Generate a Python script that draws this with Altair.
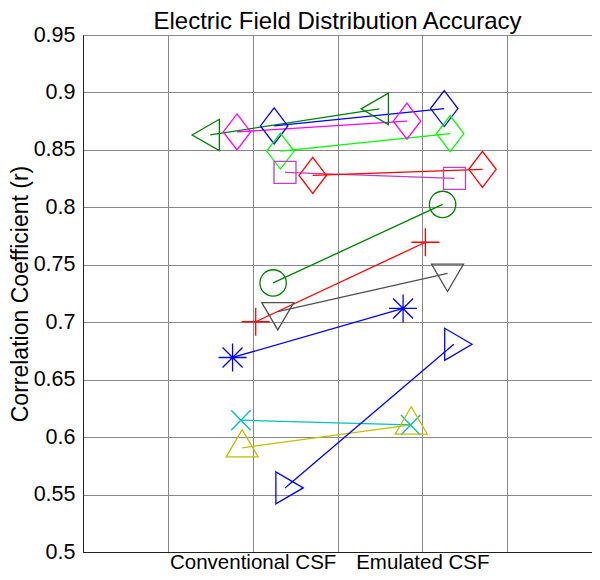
import altair as alt
import pandas as pd

# ---- data ----
series = ["s1", "s2", "s3", "s4", "s5", "s6", "s7", "s8", "s9", "s10", "s11", "s12", "s13"]
conv_x = [1.500, 1.815, 2.253, 2.327, 2.381, 2.708, 2.241, 2.036, 2.296, 1.763, 1.861, 1.876, 2.381]
conv_y = [0.8630, 0.8656, 0.8709, 0.8490, 0.8305, 0.8278, 0.7342, 0.7004, 0.7092, 0.6693, 0.6147, 0.5907, 0.5558]
emu_x = [3.493, 3.819, 4.258, 4.328, 4.379, 4.709, 4.239, 4.036, 4.297, 3.773, 3.862, 3.869, 4.371]
emu_y = [0.8857, 0.8750, 0.8860, 0.8642, 0.8252, 0.8331, 0.8025, 0.7696, 0.7426, 0.7120, 0.6106, 0.6106, 0.6808]

x_tick_values = [1, 2, 3, 4, 5]
x_tick_labels = {2: "Conventional CSF", 4: "Emulated CSF"}
y_tick_values = [0.5, 0.55, 0.6, 0.65, 0.7, 0.75, 0.8, 0.85, 0.9, 0.95]

# ---- styles ----
colors = ["#008000", "#FF00FF", "#0000FF", "#00FF00", "#BF40BF", "#FF0000", "#008000",
          "#FF0000", "#505050", "#0000FF", "#00BFBF", "#BFBF00", "#0000FF"]
tri_left = "M-18.2,0L9.1,-15.7L9.1,15.7Z"
tri_right = "M18.2,0L-9.1,-16L-9.1,16Z"
tri_down = "M0,18.2L-16,-9.1L16,-9.1Z"
tri_up = "M0,-18.2L-16,9.1L16,9.1Z"
diamond = "M0,-18L13.7,0L0,18L-13.7,0Z"
square = "M-11,-11L11,-11L11,11L-11,11Z"
circle = "M13.2,0A13.2,13.2,0,1,1,-13.2,0A13.2,13.2,0,1,1,13.2,0Z"
plus = "M-14,0L14,0M0,-14L0,14"
asterisk = "M-14,0L14,0M0,-14L0,14M-10,-10L10,10M-10,10L10,-10"
xcross = "M-9.7,-10L9.7,10M-9.7,10L9.7,-10"
shapes = [tri_left, diamond, diamond, diamond, square, diamond, circle,
          plus, tri_down, asterisk, xcross, tri_up, tri_right]

rows = []
for i, s in enumerate(series):
    rows.append({"series": s, "x": conv_x[i], "y": conv_y[i], "ord": 0})
    rows.append({"series": s, "x": emu_x[i], "y": emu_y[i], "ord": 1})
df = pd.DataFrame(rows)

label_expr = " : ".join(
    [f"datum.value == {k} ? '{v}'" for k, v in x_tick_labels.items()]
) + " : ''"

font = "Liberation Sans"
grid_color = "#888888"

x_enc = alt.X(
    "x:Q",
    scale=alt.Scale(domain=[0, 6], nice=False, zero=False),
    axis=alt.Axis(
        values=x_tick_values, labelExpr=label_expr, title=None, grid=True,
        gridColor=grid_color, gridOpacity=1, gridWidth=1,
        ticks=False, tickSize=0, labelPadding=0, labelFontSize=20.5,
        labelColor="black", labelFont=font, labelOverlap=False,
        domainColor="#222222", labelFlush=False,
    ),
)
y_enc = alt.Y(
    "y:Q",
    scale=alt.Scale(domain=[0.5, 0.95], nice=False, zero=False),
    axis=alt.Axis(
        values=y_tick_values, format=".2~f", title="Correlation Coefficient (r)",
        grid=True, gridColor=grid_color, gridOpacity=1, gridWidth=1,
        ticks=False, tickSize=0, labelPadding=8, labelFontSize=21.5,
        labelColor="black", labelFont=font, titleFont=font, titleFontSize=23,
        titleFontWeight="normal", titleColor="black", titlePadding=1,
        domainColor="#222222", labelFlush=False,
    ),
)
color_enc = alt.Color("series:N", scale=alt.Scale(domain=series, range=colors), legend=None)

lines = alt.Chart(df).mark_line(strokeWidth=1.3).encode(
    x=x_enc, y=y_enc, color=color_enc, detail="series:N", order="ord:Q"
)
points = alt.Chart(df).mark_point(filled=False, size=4, strokeWidth=1.3, opacity=1).encode(
    x=x_enc, y=y_enc, color=color_enc,
    shape=alt.Shape("series:N", scale=alt.Scale(domain=series, range=shapes), legend=None),
)

chart = (
    alt.layer(lines, points)
    .properties(
        width=509,
        height=517,
        autosize=alt.AutoSizeParams(type="none"),
        padding={"left": 75, "top": 27, "right": 0, "bottom": 20},
        title=alt.TitleParams(
            "Electric Field Distribution Accuracy", fontSize=24, fontWeight="normal",
            font=font, color="black", anchor="middle", frame="group", offset=-10,
        ),
    )
    .configure(font=font)
    .configure_view(stroke="#222222", strokeWidth=1)
)

chart.save("out.html", embed_options={"renderer": "svg", "actions": False})
